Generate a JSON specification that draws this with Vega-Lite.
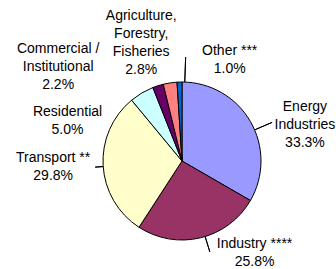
{
  "$schema": "https://vega.github.io/schema/vega-lite/v6.json",
  "width": 300,
  "height": 214,
  "padding": {"left": 32, "top": 54, "right": 4, "bottom": 1},
  "autosize": {"type": "none"},
  "config": {"view": {"stroke": null}},
  "data": {
    "values": [
      {"cat": "Energy Industries", "value": 33.3, "order": 1, "label": "Energy\nIndustries\n33.3%"},
      {"cat": "Industry", "value": 25.8, "order": 2, "label": "Industry ****\n25.8%"},
      {"cat": "Transport", "value": 29.8, "order": 3, "label": "Transport **\n29.8%"},
      {"cat": "Residential", "value": 5.0, "order": 4, "label": "Residential\n5.0%"},
      {"cat": "Commercial / Institutional", "value": 2.2, "order": 5, "label": "Commercial /\nInstitutional\n2.2%"},
      {"cat": "Agriculture, Forestry, Fisheries", "value": 2.8, "order": 6, "label": "Agriculture,\nForestry,\nFisheries\n2.8%"},
      {"cat": "Other", "value": 1.0, "order": 7, "label": "Other ***\n1.0%"}
    ]
  },
  "transform": [
    {"stack": "value", "groupby": [], "sort": [{"field": "order"}], "as": ["v0", "v1"]}
  ],
  "layer": [
    {
      "mark": {"type": "arc", "outerRadius": 79, "stroke": "black", "strokeWidth": 1},
      "encoding": {
        "theta": {"field": "value", "type": "quantitative", "stack": true},
        "order": {"field": "order", "type": "quantitative"},
        "color": {
          "field": "cat", "type": "nominal", "legend": null,
          "scale": {
            "domain": ["Energy Industries", "Industry", "Transport", "Residential", "Commercial / Institutional", "Agriculture, Forestry, Fisheries", "Other"],
            "range": ["#9999FF", "#993366", "#FFFFCC", "#CCFFFF", "#660066", "#FF8080", "#0066CC"]
          }
        }
      }
    },
    {
      "transform": [{"filter": "datum.cat === 'Energy Industries'"}],
      "mark": {"type": "arc", "radius": 98, "radius2": 79, "stroke": "black", "strokeWidth": 1, "fill": "transparent", "thetaOffset": 1.166, "theta2Offset": 1.166},
      "encoding": {"theta": {"field": "v0", "type": "quantitative"}, "theta2": {"field": "v0"}}
    },
    {
      "transform": [{"filter": "datum.cat === 'Industry'"}],
      "mark": {"type": "arc", "radius": 95, "radius2": 79, "stroke": "black", "strokeWidth": 1, "fill": "transparent", "thetaOffset": 0.75, "theta2Offset": 0.75},
      "encoding": {"theta": {"field": "v0", "type": "quantitative"}, "theta2": {"field": "v0"}}
    },
    {
      "transform": [{"filter": "datum.cat === 'Transport'"}],
      "mark": {"type": "arc", "radius": 87, "radius2": 79, "stroke": "black", "strokeWidth": 1, "fill": "transparent", "thetaOffset": 0.925, "theta2Offset": 0.925},
      "encoding": {"theta": {"field": "v0", "type": "quantitative"}, "theta2": {"field": "v0"}}
    },
    {
      "transform": [{"filter": "datum.cat === 'Other'"}],
      "mark": {"type": "arc", "radius": 104, "radius2": 79, "stroke": "black", "strokeWidth": 1, "fill": "transparent", "thetaOffset": 0.098, "theta2Offset": 0.098},
      "encoding": {"theta": {"field": "v0", "type": "quantitative"}, "theta2": {"field": "v0"}}
    },
    {
      "mark": {"type": "text", "radius": 105, "dx": 32, "dy": -2, "font": "Liberation Sans", "fontSize": 14, "lineBreak": "\n", "lineHeight": 18, "align": "center", "baseline": "middle", "color": "black"},
      "encoding": {
        "theta": {"field": "value", "type": "quantitative", "stack": true},
        "order": {"field": "order", "type": "quantitative"},
        "text": {"condition": {"test": "datum.cat === 'Energy Industries'", "field": "label"}, "value": ""}
      }
    },
    {
      "mark": {"type": "text", "radius": 105, "dx": 48, "dy": -19.5, "font": "Liberation Sans", "fontSize": 14, "lineBreak": "\n", "lineHeight": 18, "align": "center", "baseline": "middle", "color": "black"},
      "encoding": {
        "theta": {"field": "value", "type": "quantitative", "stack": true},
        "order": {"field": "order", "type": "quantitative"},
        "text": {"condition": {"test": "datum.cat === 'Industry'", "field": "label"}, "value": ""}
      }
    },
    {
      "mark": {"type": "text", "radius": 105, "dx": -24, "dy": -9, "font": "Liberation Sans", "fontSize": 14, "lineBreak": "\n", "lineHeight": 18, "align": "center", "baseline": "middle", "color": "black"},
      "encoding": {
        "theta": {"field": "value", "type": "quantitative", "stack": true},
        "order": {"field": "order", "type": "quantitative"},
        "text": {"condition": {"test": "datum.cat === 'Transport'", "field": "label"}, "value": ""}
      }
    },
    {
      "mark": {"type": "text", "radius": 105, "dx": -61, "dy": 41, "font": "Liberation Sans", "fontSize": 14, "lineBreak": "\n", "lineHeight": 18, "align": "center", "baseline": "middle", "color": "black"},
      "encoding": {
        "theta": {"field": "value", "type": "quantitative", "stack": true},
        "order": {"field": "order", "type": "quantitative"},
        "text": {"condition": {"test": "datum.cat === 'Residential'", "field": "label"}, "value": ""}
      }
    },
    {
      "mark": {"type": "text", "radius": 105, "dx": -92, "dy": -12, "font": "Liberation Sans", "fontSize": 14, "lineBreak": "\n", "lineHeight": 18, "align": "center", "baseline": "middle", "color": "black"},
      "encoding": {
        "theta": {"field": "value", "type": "quantitative", "stack": true},
        "order": {"field": "order", "type": "quantitative"},
        "text": {"condition": {"test": "datum.cat === 'Commercial / Institutional'", "field": "label"}, "value": ""}
      }
    },
    {
      "mark": {"type": "text", "radius": 105, "dx": -25, "dy": -41.5, "font": "Liberation Sans", "fontSize": 14, "lineBreak": "\n", "lineHeight": 18, "align": "center", "baseline": "middle", "color": "black"},
      "encoding": {
        "theta": {"field": "value", "type": "quantitative", "stack": true},
        "order": {"field": "order", "type": "quantitative"},
        "text": {"condition": {"test": "datum.cat === 'Agriculture, Forestry, Fisheries'", "field": "label"}, "value": ""}
      }
    },
    {
      "mark": {"type": "text", "radius": 105, "dx": 51, "dy": -5, "font": "Liberation Sans", "fontSize": 14, "lineBreak": "\n", "lineHeight": 18, "align": "center", "baseline": "middle", "color": "black"},
      "encoding": {
        "theta": {"field": "value", "type": "quantitative", "stack": true},
        "order": {"field": "order", "type": "quantitative"},
        "text": {"condition": {"test": "datum.cat === 'Other'", "field": "label"}, "value": ""}
      }
    }
  ]
}
